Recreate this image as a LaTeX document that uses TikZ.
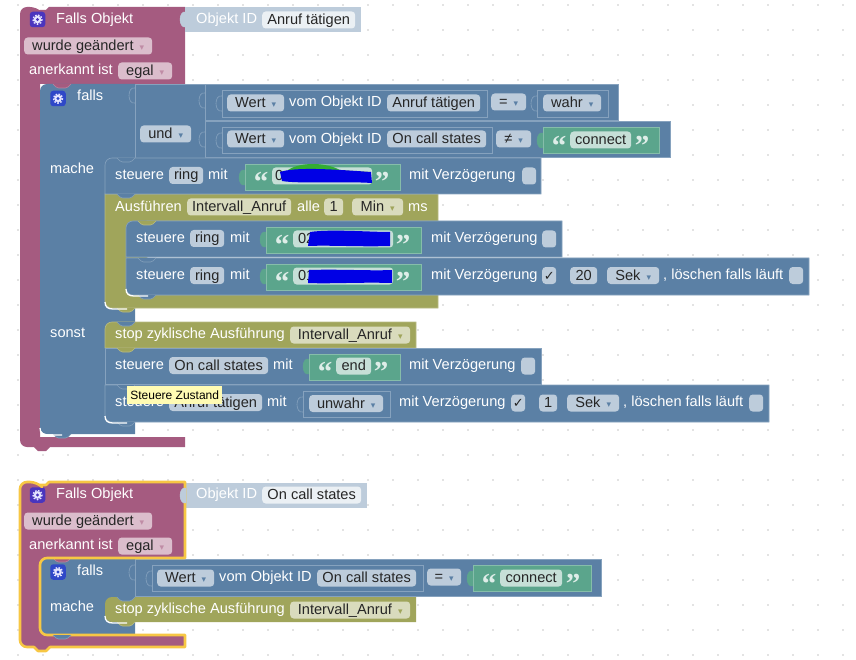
\documentclass[tikz,border=0pt]{standalone}
\usepackage{fontspec}
\setmainfont{Liberation Sans}
\newfontfamily\symb{DejaVu Sans}
\newfontfamily\quofont{Liberation Serif}
\definecolor{pnk}{HTML}{A55B80}
\definecolor{blu}{HTML}{5B80A5}
\definecolor{olv}{HTML}{A0A55B}
\definecolor{grn}{HTML}{5BA58C}
\definecolor{idc}{HTML}{BDCCDB}
\definecolor{blulit}{HTML}{86A2BE}
\definecolor{grnlit}{HTML}{86BDAA}
\definecolor{yel}{HTML}{F7C744}
\definecolor{gpur}{HTML}{4A35BE}
\definecolor{gblu}{HTML}{2F48C8}
\tikzset{
  lbl/.style={anchor=west,text=white,inner sep=0pt,text height=12pt,text depth=2.5pt,font=\fontsize{14.6}{16}\selectfont},
  fld/.style={anchor=west,text=black!85,inner xsep=1pt,inner ysep=1pt,text height=12pt,text depth=3pt,rounded corners=3.5pt,font=\fontsize{14.6}{16}\selectfont},
  fb/.style={fld,fill=blu!40!white},
  fp/.style={fld,fill=pnk!40!white},
  fo/.style={fld,fill=olv!40!white},
  fg/.style={fld,fill=grn!35!white},
  fi/.style={fld,fill=blu!12!white},
  qt/.style={text=grn!20!white,inner sep=0pt,font=\quofont\bfseries\fontsize{29}{29}\selectfont},
  bblk/.style={fill=blu,draw=blulit,line width=.6pt},
  oblk/.style={fill=olv,draw=olv!75!white,line width=.6pt},
  gblk/.style={fill=grn,draw=grnlit,line width=.6pt},
  frm/.style={draw=blulit,line width=.6pt},
  gbox/.style={minimum size=15.5pt,inner sep=0pt,rounded corners=3pt,line width=1pt},
  scrib/.style={fill=blue!90!black},
}
\begin{document}
\begin{tikzpicture}[x=1pt,y=-1pt]

  \newcommand\fld[6]{\node[#1,minimum width={#4-#3}] (#2) at (#3,#5) {#6};}
  \newcommand\tabb[4][]{\draw[#2,#1] (#3,#4) .. controls (#3-8,#4-2) and (#3-8,#4+17) .. (#3,#4+15);}
  \newcommand\bump[3]{\path[fill=#3,draw=#3!75!white,line width=.6pt,rounded corners=1.5pt]
    (#1,#2) -- (#1+4,#2+4) -- (#1+14,#2+4) -- (#1+18,#2);}
  \newcommand\glare[2]{\draw[white,line width=1.3pt]
    (#1,#2-6) .. controls (#1,#2-1) and (#1+3,#2+1) .. (#1+8,#2+1) -- (#1+22,#2+1);}
  \newcommand\dd[1]{{\hspace{6pt}\symb\fontsize{9}{9}\selectfont\textcolor{#1}{▾}\hspace{4pt}}}
  \newcommand\ck{{\symb\fontsize{13}{13}\selectfont ✓}}
  \newcommand\qo[2]{\node[qt] (#1) at (#2) {\raisebox{-15.5pt}[0pt][0pt]{“}};}
  \newcommand\qc[2]{\node[qt] (#1) at (#2) {\raisebox{-15.5pt}[0pt][0pt]{”}};}
  \newcommand\gear[4]{\node[gbox,fill=#4] (#1) at (#2,#3) {};
    \fill[blue!10!white] (#1) circle (3.8);
    \draw[blue!10!white,line width=1.4pt,dash pattern=on 1.6pt off 1.5pt] (#1) circle (4.6);
    \fill[#4] (#1) circle (1.6);}

  \useasboundingbox (0,0) rectangle (856,660);
  \fill[white] (0,0) rectangle (856,660);

  %% grid
  \foreach \i in {0,...,33}
    \foreach \j in {0,...,26}
      \fill[black!22] (18+25*\i,5+25*\j) circle (.8);

  %% upper group, outer block
  \fill[pnk] (20,40) [rounded corners=7] -- (20,7) -- (37,7) [sharp corners] -- (40,10) -- (46,10) -- (49,7)
    -- (185,7) -- (185,84) -- (40,84) -- (40,437) -- (185,437) -- (185,447) -- (50,447) -- (46,451) -- (38,451) -- (34,447)
    [rounded corners=7] -- (20,447) [sharp corners] -- (20,400) -- cycle;
  \fill[idc] (185,7) rectangle (361,32);
  \tabb[fill=idc]{idc}{186}{12}
  \gear{gpa}{37.5}{19.5}{gpur}
  \node[lbl] (fo1) at (56,19) {Falls Objekt};
  \node[lbl] (id1) at (196,19) {Objekt ID};
  \fld{fi}{an0}{262}{355}{20}{Anruf tätigen}
  \fld{fp}{wg1}{24}{152}{46}{wurde geändert\dd{pnk!70!white}}
  \node[lbl] (ak1) at (29,70) {anerkannt ist};
  \fld{fp}{eg1}{118}{172}{71}{egal\dd{pnk!70!white}}

  %% falls block
  \fill[blu] (40,434) [rounded corners=7] -- (40,84) [sharp corners] -- (135,84) -- (135,434) -- (48,434) [rounded corners=7] -- cycle;
  \draw[bblk] (135,84) rectangle (205,158);
  \draw[bblk] (205,84) rectangle (618,120);
  \draw[bblk] (205,121) rectangle (670,157);
  \tabb{frm}{135}{88}
  \tabb{frm}{205}{93}
  \tabb{frm}{205}{132}
  \gear{gbl}{58}{98.5}{gblu}
  \node[lbl] (fa1) at (77,96) {falls};
  \node[lbl] (ma1) at (50,169) {mache};
  \node[lbl] (so1) at (50,333) {sonst};
  \fld{fb}{un1}{140}{191}{134}{und\dd{blu}}

  \draw[frm] (222,90) rectangle (487,117);
  \tabb{frm}{222}{96}
  \fld{fb}{we1}{227}{284}{103}{Wert\dd{blu}}
  \node[lbl] (vo1) at (289,102) {vom Objekt ID};
  \fld{fb}{an1}{387}{480}{103}{Anruf tätigen}
  \fld{fb}{eq1}{491}{526}{102}{=\dd{blu}}
  \draw[frm] (537,90) rectangle (608,117);
  \tabb{frm}{537}{96}
  \fld{fb}{wa1}{543}{601}{103}{wahr\dd{blu}}

  \draw[frm] (222,127) rectangle (492,153);
  \tabb{frm}{222}{133}
  \fld{fb}{we2}{227}{284}{139}{Wert\dd{blu}}
  \node[lbl] (vo2) at (289,139) {vom Objekt ID};
  \fld{fb}{on1}{387}{486}{139}{On call states}
  \fld{fb}{ne1}{496}{531}{139}{≠\dd{blu}}
  \tabb[fill=grn]{grn}{543}{133}
  \draw[gblk] (543,127) rectangle (659,153);
  \qo{q1}{559,140}
  \fld{fg}{co1}{570}{631}{140}{connect}
  \qc{q2}{642,140}

  %% mache part
  \draw[oblk] (105,194) -- (438,194) -- (438,221) -- (147,221) -- (147,295) -- (438,295) -- (438,308) -- (112,308)
    [rounded corners=7] -- (105,308) [sharp corners] -- cycle;
  \draw[bblk] (105,194) [rounded corners=7] -- (105,158) [sharp corners] -- (541,158) -- (541,194) -- cycle;
  \node[lbl] (st1) at (115,175) {steuere};
  \fld{fb}{ri1}{169}{203}{175.5}{ring}
  \node[lbl] (mi1) at (208,175) {mit};
  \tabb[fill=grn]{grn}{245}{170}
  \draw[gblk] (245,164) rectangle (400,190);
  \qo{q3}{261,176}
  \fld{fg}{nu1}{272}{372}{176}{\hspace{-86pt}0}
  \fill[green!60!black!80] (288,170) .. controls (300,162) and (325,162) .. (340,170) -- cycle;
  \fill[yellow!80!green] (335,170) -- (370,172) -- (368,180) -- (335,180) -- cycle;
  \path[scrib] (280,172) .. controls (295,167) and (330,169) .. (371,172) -- (372,183) .. controls (340,181) and (300,184) .. (282,181) -- cycle;
  \qc{q4}{382,176}
  \node[lbl] (mv1) at (409,175) {mit Verzögerung};
  \fld{fb}{cb1}{522}{536}{176}{}

  \node[lbl] (au1) at (115,207) {Ausführen};
  \fld{fo}{iv1}{187}{291}{207}{Intervall\_Anruf}
  \node[lbl] (al1) at (297,207) {alle};
  \fld{fo}{ei1}{324}{343}{207}{1}
  \fld{fo}{mn1}{352}{403}{207}{Min\dd{olv}}
  \node[lbl] (ms1) at (408,207) {ms};

  \draw[bblk] (126,257) [rounded corners=7] -- (126,221) [sharp corners] -- (562,221) -- (562,257) -- cycle;
  \node[lbl] (st2) at (136,238) {steuere};
  \fld{fb}{ri2}{190}{224}{238.5}{ring}
  \node[lbl] (mi2) at (230,238) {mit};
  \tabb[fill=grn]{grn}{266}{232}
  \draw[gblk] (266,227) rectangle (421,253);
  \qo{q5}{282,239}
  \fld{fg}{nu2}{293}{393}{239}{\hspace{-74pt}02}
  \path[scrib] (310,232) .. controls (330,229) and (370,232) .. (390,232) -- (390,246) .. controls (360,247) and (330,245) .. (308,246) -- cycle;
  \qc{q6}{403,239}
  \node[lbl] (mv2) at (431,238) {mit Verzögerung};
  \fld{fb}{cb2}{542}{556}{239}{}

  \draw[bblk] (126,258) -- (809,258) -- (809,295) -- (134,295) [rounded corners=7] -- (126,295) [sharp corners] -- cycle;
  \node[lbl] (st3) at (136,275) {steuere};
  \fld{fb}{ri3}{190}{224}{275.5}{ring}
  \node[lbl] (mi3) at (230,275) {mit};
  \tabb[fill=grn]{grn}{266}{269}
  \draw[gblk] (266,264) rectangle (421,290);
  \qo{q7}{282,276}
  \fld{fg}{nu3}{293}{393}{276}{\hspace{-74pt}01}
  \path[scrib] (309,270) .. controls (340,269) and (370,271) .. (392,270) -- (392,283) .. controls (360,282) and (330,284) .. (308,283) -- cycle;
  \qc{q8}{403,276}
  \node[lbl] (mv3) at (431,275) {mit Verzögerung};
  \fld{fb}{cb3}{542}{556}{275.5}{\ck}
  \fld{fb}{zw1}{570}{597}{275.5}{20}
  \fld{fb}{se1}{607}{659}{275.5}{Sek\dd{blu}}
  \node[lbl] (lo1) at (663,275) {, löschen falls läuft};
  \fld{fb}{cb4}{789}{803}{275.5}{}

  %% sonst part
  \draw[oblk] (105,348) [rounded corners=7] -- (105,322) [sharp corners] -- (416,322) -- (416,348) -- cycle;
  \node[lbl] (sp1) at (115,334) {stop zyklische Ausführung};
  \fld{fo}{iv2}{290}{410}{335}{Intervall\_Anruf\dd{olv}}

  \draw[bblk] (105,348) rectangle (541,384);
  \node[lbl] (st4) at (115,365) {steuere};
  \fld{fb}{on2}{169}{268}{365.5}{On call states}
  \node[lbl] (mi4) at (273,365) {mit};
  \tabb[fill=grn]{grn}{309}{359}
  \draw[gblk] (309,354) rectangle (400,380);
  \qo{q9}{325,366}
  \fld{fg}{en1}{336}{371}{366}{end}
  \qc{q10}{381,366}
  \node[lbl] (mv4) at (409,365) {mit Verzögerung};
  \fld{fb}{cb5}{521}{535}{366}{}

  \draw[bblk] (105,385) -- (769,385) -- (769,422) -- (113,422) [rounded corners=7] -- (105,422) [sharp corners] -- cycle;
  \node[lbl] (st5) at (115,402) {steuere};
  \fld{fb}{an2}{169}{262}{402.5}{Anruf tätigen}
  \node[lbl] (mi5) at (267,402) {mit};
  \draw[frm] (303,391) rectangle (390,417);
  \tabb{frm}{303}{397}
  \fld{fb}{uw1}{309}{383}{403.5}{unwahr\dd{blu}}
  \node[lbl] (mv5) at (399,402) {mit Verzögerung};
  \fld{fb}{cb6}{511}{525}{403}{\ck}
  \fld{fb}{ei2}{539}{557}{403}{1}
  \fld{fb}{se2}{567}{619}{403}{Sek\dd{blu}}
  \node[lbl] (lo2) at (623,402) {, löschen falls läuft};
  \fld{fb}{cb7}{749}{763}{403}{}

  %% notches
  \bump{53}{84}{pnk}
  \bump{117}{158}{blu}
  \bump{117}{194}{blu}
  \bump{138}{221}{olv}
  \bump{138}{258}{blu}
  \bump{138}{295}{blu}
  \bump{117}{308}{olv}
  \bump{117}{322}{blu}
  \bump{117}{348}{olv}
  \bump{117}{385}{blu}
  \bump{117}{422}{blu}
  \bump{53}{434}{blu}
  \glare{126}{295}
  \glare{105}{308}
  \glare{105}{422}
  \glare{40}{434}

  \node[fill=yellow!30!white,anchor=west,minimum width=95pt,minimum height=18pt,inner sep=0pt,font=\fontsize{12}{14}\selectfont] (tip) at (127,395) {Steuere Zustand};

  %% lower group, outer block
  \newcommand\pnkpath{(20,515) [rounded corners=7] -- (20,482) -- (37,482) [sharp corners] -- (40,485) -- (46,485) -- (49,482)
    -- (185,482) -- (185,558) [rounded corners=7] -- (40,558) -- (40,635) [sharp corners] -- (185,635) -- (185,647) -- (50,647) -- (46,651) -- (38,651) -- (34,647)
    [rounded corners=7] -- (20,647) [sharp corners] -- (20,600) -- cycle}
  \fill[pnk] \pnkpath;
  \fill[idc] (185,483) rectangle (367,508);
  \gear{gpb}{37.5}{495}{gpur}
  \node[lbl] (fo2) at (56,494) {Falls Objekt};
  \node[lbl] (id2) at (196,494) {Objekt ID};
  \fld{fi}{on3}{262}{361}{495}{On call states}
  \fld{fp}{wg2}{24}{152}{521}{wurde geändert\dd{pnk!70!white}}
  \node[lbl] (ak2) at (29,545) {anerkannt ist};
  \fld{fp}{eg2}{118}{172}{546}{egal\dd{pnk!70!white}}

  \fill[blu] (40,635) [rounded corners=7] -- (40,558) [sharp corners] -- (135,558) -- (135,635) -- (48,635) [rounded corners=7] -- cycle;
  \draw[bblk] (135,559) rectangle (601,596);
  \tabb{frm}{135}{565}
  \gear{gbm}{58}{572}{gblu}
  \node[lbl] (fa2) at (77,571) {falls};
  \node[lbl] (ma2) at (50,607) {mache};
  \draw[frm] (152,565) rectangle (423,591);
  \tabb{frm}{152}{571}
  \fld{fb}{we3}{157}{214}{578}{Wert\dd{blu}}
  \node[lbl] (vo3) at (219,577) {vom Objekt ID};
  \fld{fb}{on4}{317}{416}{578}{On call states}
  \fld{fb}{eq2}{427}{461}{577}{=\dd{blu}}
  \tabb[fill=grn]{grn}{473}{571}
  \draw[gblk] (473,565) rectangle (591,591);
  \qo{q11}{489,578}
  \fld{fg}{co2}{500}{562}{578}{connect}
  \qc{q12}{573,578}

  \fill[olv] (105,622) [rounded corners=7] -- (105,597) [sharp corners] -- (416,597) -- (416,622) -- (113,622) [rounded corners=7] -- cycle;
  \node[lbl] (sp2) at (115,609) {stop zyklische Ausführung};
  \fld{fo}{iv3}{290}{410}{610}{Intervall\_Anruf\dd{olv}}
  \bump{53}{558}{pnk}
  \bump{117}{597}{blu}
  \bump{117}{622}{olv}
  \glare{105}{622}

  \draw[yel,line width=2.6pt,line join=round] \pnkpath;
  \tabb[fill=idc]{idc}{186}{488}
  \bump{53}{635}{blu}

\end{tikzpicture}
\end{document}
